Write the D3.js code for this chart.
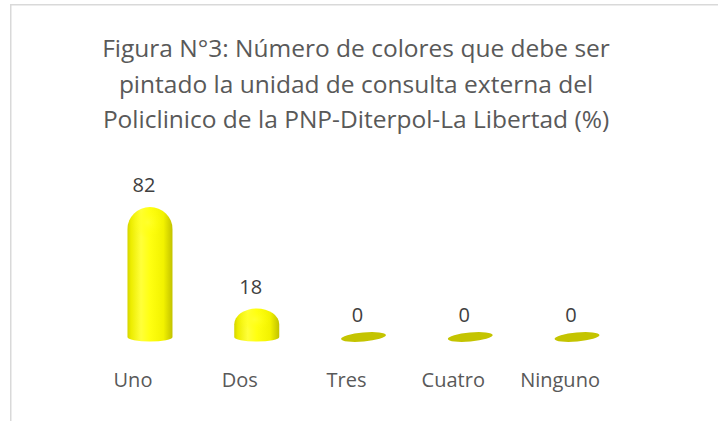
<!DOCTYPE html>
<html>
<head>
<meta charset="utf-8">
<script src="https://cdn.jsdelivr.net/npm/d3@7"></script>
<style>
  body { margin: 0; background: #fff; }
  svg { display: block; font-family: "Open Sans", sans-serif; }
</style>
</head>
<body>
<div id="chart"></div>
<script>
const categories = ["Uno", "Dos", "Tres", "Cuatro", "Ninguno"];
const values = [82, 18, 0, 0, 0];
const titleLines = [
  "Figura N°3: Número de colores que debe ser",
  "pintado la unidad de consulta externa del",
  "Policlinico de la PNP-Diterpol-La Libertad (%)"
];

const width = 718, height = 421;
const depth = 17; // 3D offset between axis labels and bars
const barW = 45;

const svg = d3.select("#chart")
  .append("svg")
  .attr("width", width)
  .attr("height", height);

// chart frame
svg.append("rect")
  .attr("x", 10.75).attr("y", 4.75)
  .attr("width", 720).attr("height", 430)
  .attr("fill", "none")
  .attr("stroke", "#d9d9d9")
  .attr("stroke-width", 1.5);

// Title
const title = svg.append("text")
  .attr("text-anchor", "middle")
  .attr("fill", "#595959")
  .style("font-size", "24.5px");

titleLines.forEach((line, i) => {
  title.append("tspan")
    .attr("x", 356)
    .attr("y", 57 + i * 35.5)
    .text(line);
});

const data = categories.map((c, i) => ({ cat: c, value: values[i] }));

const x = d3.scaleBand()
  .domain(categories)
  .range([79.6, 613.4])
  .padding(0);

const y = d3.scaleLinear()
  .domain([0, 82])
  .range([337, 207]);

const defs = svg.append("defs");

const grad = defs.append("linearGradient")
  .attr("id", "cyl")
  .attr("x1", "0%").attr("x2", "100%")
  .attr("y1", "0%").attr("y2", "0%");
[
  [0, "#d4d400"], [0.08, "#eded00"], [0.3, "#ffff3a"],
  [0.5, "#ffff10"], [0.8, "#f2f200"], [1, "#c2c200"]
].forEach(s => grad.append("stop").attr("offset", s[0]).attr("stop-color", s[1]));

const domeGrad = defs.append("radialGradient")
  .attr("id", "dome")
  .attr("cx", "45%").attr("cy", "35%").attr("r", "60%");
[
  [0, "#ffff30", 0.9], [0.6, "#ffff00", 0], [1, "#d0d000", 0]
].forEach(s => domeGrad.append("stop")
  .attr("offset", s[0]).attr("stop-color", s[1]).attr("stop-opacity", s[2]));

// Category labels (axis)
const xAxis = d3.axisBottom(x).tickSize(0).tickPadding(0);
const axisG = svg.append("g")
  .attr("transform", "translate(0, 373)")
  .call(xAxis);
axisG.select(".domain").remove();
axisG.selectAll("text")
  .attr("fill", "#595959")
  .attr("dy", "0.71em")
  .style("font-size", "20px")
  .style("font-family", "'Open Sans', sans-serif");

const ryBase = 4.5;

const bars = svg.append("g")
  .selectAll("g")
  .data(data)
  .join("g")
  .attr("transform", d => `translate(${x(d.cat) + x.bandwidth() / 2 + depth}, 0)`);

// cylinder bars with rounded tops
bars.filter(d => d.value > 0)
  .append("path")
  .attr("d", d => {
    const top = y(d.value);
    const base = y(0);
    const h = base - top;
    const rx = barW / 2;
    const ry = Math.min(22, h * 0.55);
    return `M${-rx},${base} L${-rx},${top + ry} A${rx},${ry} 0 0 1 ${rx},${top + ry} ` +
      `L${rx},${base} A${rx},${ryBase} 0 0 1 ${-rx},${base} Z`;
  })
  .attr("fill", "url(#cyl)");

bars.filter(d => d.value > 0)
  .append("ellipse")
  .attr("cx", 0)
  .attr("cy", d => y(d.value) + Math.min(22, (y(0) - y(d.value)) * 0.55))
  .attr("rx", barW / 2)
  .attr("ry", d => Math.min(22, (y(0) - y(d.value)) * 0.55))
  .attr("fill", "url(#dome)");

// zero values: flat discs
bars.filter(d => d.value === 0)
  .append("ellipse")
  .attr("cx", 0)
  .attr("cy", y(0))
  .attr("rx", barW / 2)
  .attr("ry", 4.5)
  .attr("transform", `rotate(-5, 0, ${y(0)})`)
  .attr("fill", "#c4c400");

// value labels
bars.append("text")
  .text(d => d.value)
  .attr("x", -6)
  .attr("y", d => y(d.value) - 20)
  .attr("text-anchor", "middle")
  .attr("dominant-baseline", "middle")
  .attr("fill", "#404040")
  .style("font-size", "20px");
</script>
</body>
</html>
